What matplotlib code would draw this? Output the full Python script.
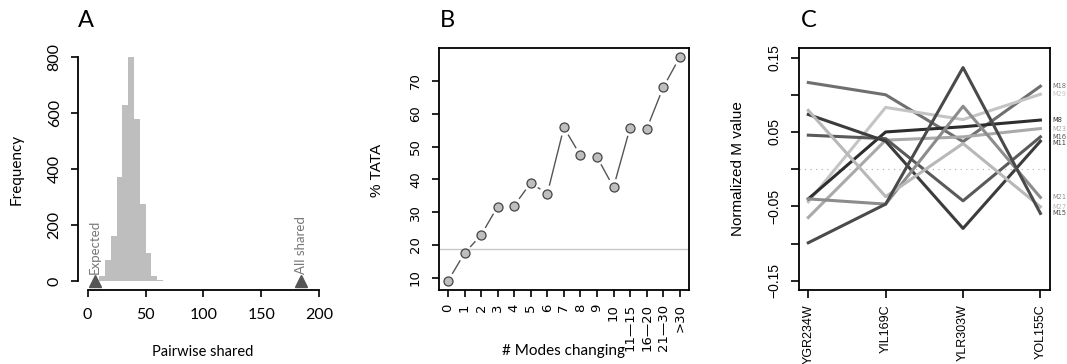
import numpy as np
import matplotlib
matplotlib.use("Agg")
import matplotlib.pyplot as plt

# panel A: pairwise shared histogram
hist_edges = [10, 15, 20, 25, 30, 35, 40, 45, 50, 55, 60, 65]
hist_counts = [18, 75, 160, 371, 630, 800, 580, 275, 99, 18, 4]
expected_shared = 6
all_shared = 184

# panel B: % TATA by number of modes changing
modes_labels = ["0", "1", "2", "3", "4", "5", "6", "7", "8", "9", "10",
                "11\u201415", "16\u201420", "21\u201430", ">30"]
tata_pct = [9.0, 17.5, 23.0, 31.7, 32.0, 38.9, 35.6, 55.8, 47.3, 46.8,
            37.6, 55.7, 55.3, 68.0, 77.2]
tata_baseline = 18.75

# panel C: normalized M values per gene
genes = ["YGR234W", "YIL169C", "YLR303W", "YOL155C"]
mode_names = ["M18", "M29", "M8", "M23", "M16", "M11", "M21", "M27", "M15"]
M18 = [0.1165, 0.100, 0.037, 0.1115]
M29 = [-0.044, 0.083, 0.0667, 0.1007]
M8 = [-0.040, 0.050, 0.057, 0.066]
M23 = [-0.065, 0.039, 0.0434, 0.0546]
M16 = [0.0457, 0.041, -0.0426, 0.0434]
M11 = [0.0735, 0.0376, -0.0797, 0.0376]
M21 = [-0.040, -0.047, 0.0846, -0.038]
M27 = [0.079, -0.037, 0.0345, -0.0506]
M15 = [-0.099, -0.047, 0.1366, -0.0595]
mode_values = [M18, M29, M8, M23, M16, M11, M21, M27, M15]
mode_colors = ["#6f6f6f", "#c4c4c4", "#2e2e2e", "#a9a9a9", "#5a5a5a",
               "#3c3c3c", "#8c8c8c", "#b8b8b8", "#4a4a4a"]

W, H = 1067, 364


def box(left, top, right, bottom):
    return [left / W, 1 - bottom / H, (right - left) / W, (bottom - top) / H]


def fx(x):
    return x / W


def fy(y):
    return 1 - y / H


fig = plt.figure(figsize=(W / 100, H / 100), dpi=100)

# ---------------- A
axA = fig.add_axes(box(78.3, 48, 328.6, 290))
axA.bar(hist_edges[:-1], hist_counts, width=np.diff(hist_edges), align="edge",
        color="#bebebe", linewidth=0)
axA.set_xlim(-8, 208)
axA.set_ylim(-32, 832)
for s in ["top", "right"]:
    axA.spines[s].set_visible(False)
axA.spines["left"].set_bounds(0, 800)
axA.spines["bottom"].set_bounds(0, 200)
for s in ["left", "bottom"]:
    axA.spines[s].set_linewidth(1.3)
axA.set_xticks([0, 50, 100, 150, 200])
axA.set_yticks([0, 200, 400, 600, 800])
axA.tick_params(direction="out", length=5, width=1.2)
axA.tick_params(axis="x", pad=8)
axA.tick_params(axis="y", pad=7)
for lab in axA.get_xticklabels():
    lab.set_fontfamily("Lato")
    lab.set_fontsize(11.5)
for lab in axA.get_yticklabels():
    lab.set_fontfamily("Lato")
    lab.set_fontsize(11.5)
    lab.set_rotation(90)
    lab.set_va("center")
for xv, name in [(expected_shared, "Expected"), (all_shared, "All shared")]:
    axA.plot([xv], [0], marker="^", ms=8.5, color="#555555", clip_on=False, zorder=5)
    axA.text(xv, 24, name, rotation=90, ha="center", va="bottom", color="#777777",
             fontsize=9.5, family="Lato")
fig.text(fx(17), fy(169), "Frequency", rotation=90, ha="center", va="center",
         fontsize=11, family="Lato")
fig.text(fx(203), fy(352), "Pairwise shared", ha="center", va="center",
         fontsize=10.5, family="Lato")
fig.text(fx(78), fy(27), "A", ha="left", va="baseline", fontsize=17, family="Lato")

# ---------------- B
axB = fig.add_axes(box(438.7, 48.3, 689, 290))
xb = np.arange(len(tata_pct))
axB.set_xlim(-0.56, len(tata_pct) - 1 + 0.56)
axB.set_ylim(6.27, 79.93)
axB.axhline(tata_baseline, color="#c8c8c8", lw=1, zorder=0)
# type="b" style: segments stop short of the points
pts = axB.transData.transform(np.column_stack([xb, tata_pct]))
inv = axB.transData.inverted()
gap = 9
for i in range(len(pts) - 1):
    d = pts[i + 1] - pts[i]
    L = np.hypot(d[0], d[1])
    if L > 2 * gap:
        u = d / L
        seg = inv.transform([pts[i] + u * gap, pts[i + 1] - u * gap])
        axB.plot(seg[:, 0], seg[:, 1], color="#555555", lw=1, zorder=1)
axB.plot(xb, tata_pct, "o", mfc="#bebebe", mec="#444444", ms=6.5, mew=0.9, zorder=3)
axB.set_xticks(xb)
axB.set_xticklabels(modes_labels, rotation=90, fontsize=9.5, family="DejaVu Sans")
axB.set_yticks([10, 20, 30, 40, 50, 60, 70])
axB.tick_params(direction="out", length=5, width=1.2)
axB.tick_params(axis="x", pad=5)
axB.tick_params(axis="y", pad=7)
for lab in axB.get_yticklabels():
    lab.set_fontsize(9.5)
    lab.set_rotation(90)
    lab.set_va("center")
for s in axB.spines.values():
    s.set_linewidth(1.3)
fig.text(fx(376.7), fy(170), "% TATA", rotation=90, ha="center", va="center",
         fontsize=11, family="Liberation Sans")
fig.text(fx(563), fy(351), "# Modes changing", ha="center", va="center",
         fontsize=11, family="Lato")
fig.text(fx(440), fy(27), "B", ha="left", va="baseline", fontsize=17, family="Lato")

# ---------------- C
axC = fig.add_axes(box(799, 48.3, 1049.7, 290))
xc = np.arange(len(genes))
axC.set_xlim(-0.12, 3.12)
axC.set_ylim(-0.1625, 0.1625)
axC.axhline(0, color="#aaaaaa", lw=0.8, ls=(0, (1, 4)), zorder=0)
for vals, col in zip(mode_values, mode_colors):
    axC.plot(xc, vals, color=col, lw=2.2)

# right-hand labels, nudged apart a little so they don't collide
ends = np.array([v[-1] for v in mode_values])
order = np.argsort(-ends)
label_y = ends.copy()
min_sep = 0.0085
for k in range(1, len(order)):
    prev, cur = order[k - 1], order[k]
    if label_y[prev] - label_y[cur] < min_sep:
        label_y[cur] = label_y[prev] - min_sep
for name, ly, col in zip(mode_names, label_y, mode_colors):
    axC.text(3.15, ly, name, ha="left", va="center", fontsize=4.8,
             color=col, clip_on=False)
axC.set_xticks(xc)
axC.set_xticklabels(genes, rotation=90, fontsize=9, family="Liberation Sans")
yt = [-0.15, -0.10, -0.05, 0.0, 0.05, 0.10, 0.15]
ytl = ["\u22120.15", "", "\u22120.05", "", "0.05", "", "0.15"]
axC.set_yticks(yt)
axC.set_yticklabels(ytl, fontsize=10, family="Liberation Sans", rotation=90, va="center")
axC.tick_params(direction="out", length=5.5, width=1.2)
axC.tick_params(axis="x", pad=5)
axC.tick_params(axis="y", pad=7)
for s in axC.spines.values():
    s.set_linewidth(1.3)
fig.text(fx(738), fy(169), "Normalized M value", rotation=90, ha="center",
         va="center", fontsize=11, family="Liberation Sans")
fig.text(fx(801), fy(27), "C", ha="left", va="baseline", fontsize=17, family="Lato")

fig.savefig("out.png", dpi=100)
